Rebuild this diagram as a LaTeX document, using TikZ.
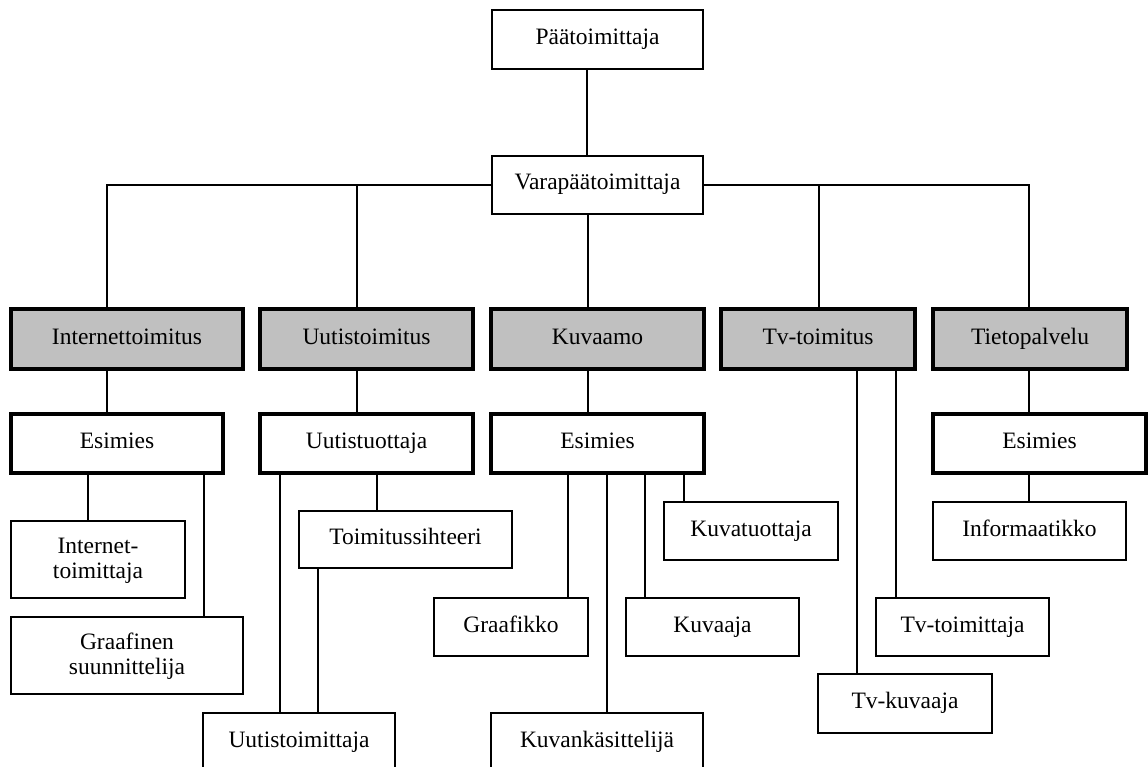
\documentclass[tikz,border=0pt]{standalone}
\usepackage{fontspec}
\setmainfont{Liberation Serif}
\begin{document}
\begin{tikzpicture}[x=1pt,y=-1pt,
  every node/.style={font=\fontsize{23.5}{25}\selectfont},
  unit/.style={draw, line width=1.3pt, fill=white, inner sep=0pt, align=center},
  dept/.style={unit, line width=3.6pt, fill=deptgray},
  head/.style={unit, line width=3.6pt},
  link/.style={line width=1.3pt}]
\definecolor{deptgray}{HTML}{C0C0C0}
\useasboundingbox (0,0) rectangle (1148,767);

% box from x1 to x2, y1 to y2 (pixels, y downwards)
\newcommand{\orgbox}[7][unit]{%
  \node[#1, minimum width={#4-#3}, minimum height={#6-#5}] (#2)
    at ({(#3+#4)/2},{(#5+#6)/2}) {\strut #7};}

% top management
\orgbox{paa}{492}{703}{10}{69}{Päätoimittaja}
\orgbox{vara}{492}{703}{156}{214}{Varapäätoimittaja}

% departments
\orgbox[dept]{int}{11}{243}{309}{369}{Internettoimitus}
\orgbox[dept]{uut}{260}{473}{309}{369}{Uutistoimitus}
\orgbox[dept]{kuv}{491}{704}{309}{369}{Kuvaamo}
\orgbox[dept]{tv}{721}{915}{309}{369}{Tv-toimitus}
\orgbox[dept]{tieto}{933}{1127}{309}{369}{Tietopalvelu}

% department heads
\orgbox[head]{esiA}{11}{223}{414}{473}{Esimies}
\orgbox[head]{uutt}{260}{473}{414}{473}{Uutistuottaja}
\orgbox[head]{esiB}{491}{704}{414}{473}{Esimies}
\orgbox[head]{esiC}{933}{1146}{414}{473}{Esimies}

% staff
\orgbox{itm}{11}{185}{521}{598}{Internet-\\toimittaja}
\orgbox{graaf}{11}{243}{617}{694}{Graafinen\\suunnittelija}
\orgbox{tsiht}{299}{512}{511}{568}{Toimitussihteeri}
\orgbox{utm}{203}{395}{713}{771}{Uutistoimittaja}
\orgbox{grfk}{434}{588}{598}{656}{Graafikko}
\orgbox{kvaaja}{626}{799}{598}{656}{Kuvaaja}
\orgbox{kvt}{664}{838}{502}{560}{Kuvatuottaja}
\orgbox{kvk}{491}{703}{713}{771}{Kuvankäsittelijä}
\orgbox{tvtm}{876}{1049}{598}{656}{Tv-toimittaja}
\orgbox{tvk}{818}{992}{674}{733}{Tv-kuvaaja}
\orgbox{info}{933}{1126}{502}{560}{Informaatikko}

% connectors
\begin{scope}[link]
  \draw (paa.south -| 587,0) -- (vara.north -| 587,0);
  \draw (vara.west) -- (vara.west -| 107,0) -- (int.north -| 107,0);
  \draw (vara.east) -- (vara.east -| 1029,0) -- (tieto.north -| 1029,0);
  \draw (vara.west -| 357,0) -- (uut.north -| 357,0);
  \draw (vara.east -| 819,0) -- (tv.north -| 819,0);
  \draw (vara.south -| 588,0) -- (kuv.north -| 588,0);

  \draw (int.south -| 107,0) -- (esiA.north -| 107,0);
  \draw (uut.south -| 357,0) -- (uutt.north -| 357,0);
  \draw (kuv.south -| 588,0) -- (esiB.north -| 588,0);
  \draw (tieto.south -| 1029,0) -- (esiC.north -| 1029,0);

  \draw (esiA.south -| 88,0) -- (itm.north -| 88,0);
  \draw (esiA.south -| 204,0) -- (graaf.north -| 204,0);

  \draw (uutt.south -| 280,0) -- (utm.north -| 280,0);
  \draw (uutt.south -| 377,0) -- (tsiht.north -| 377,0);
  \draw (tsiht.south -| 318,0) -- (utm.north -| 318,0);

  \draw (esiB.south -| 568,0) -- (grfk.north -| 568,0);
  \draw (esiB.south -| 607,0) -- (kvk.north -| 607,0);
  \draw (esiB.south -| 645,0) -- (kvaaja.north -| 645,0);
  \draw (esiB.south -| 684,0) -- (kvt.north -| 684,0);

  \draw (tv.south -| 857,0) -- (tvk.north -| 857,0);
  \draw (tv.south -| 896,0) -- (tvtm.north -| 896,0);

  \draw (esiC.south -| 1029,0) -- (info.north -| 1029,0);
\end{scope}
\end{tikzpicture}
\end{document}
